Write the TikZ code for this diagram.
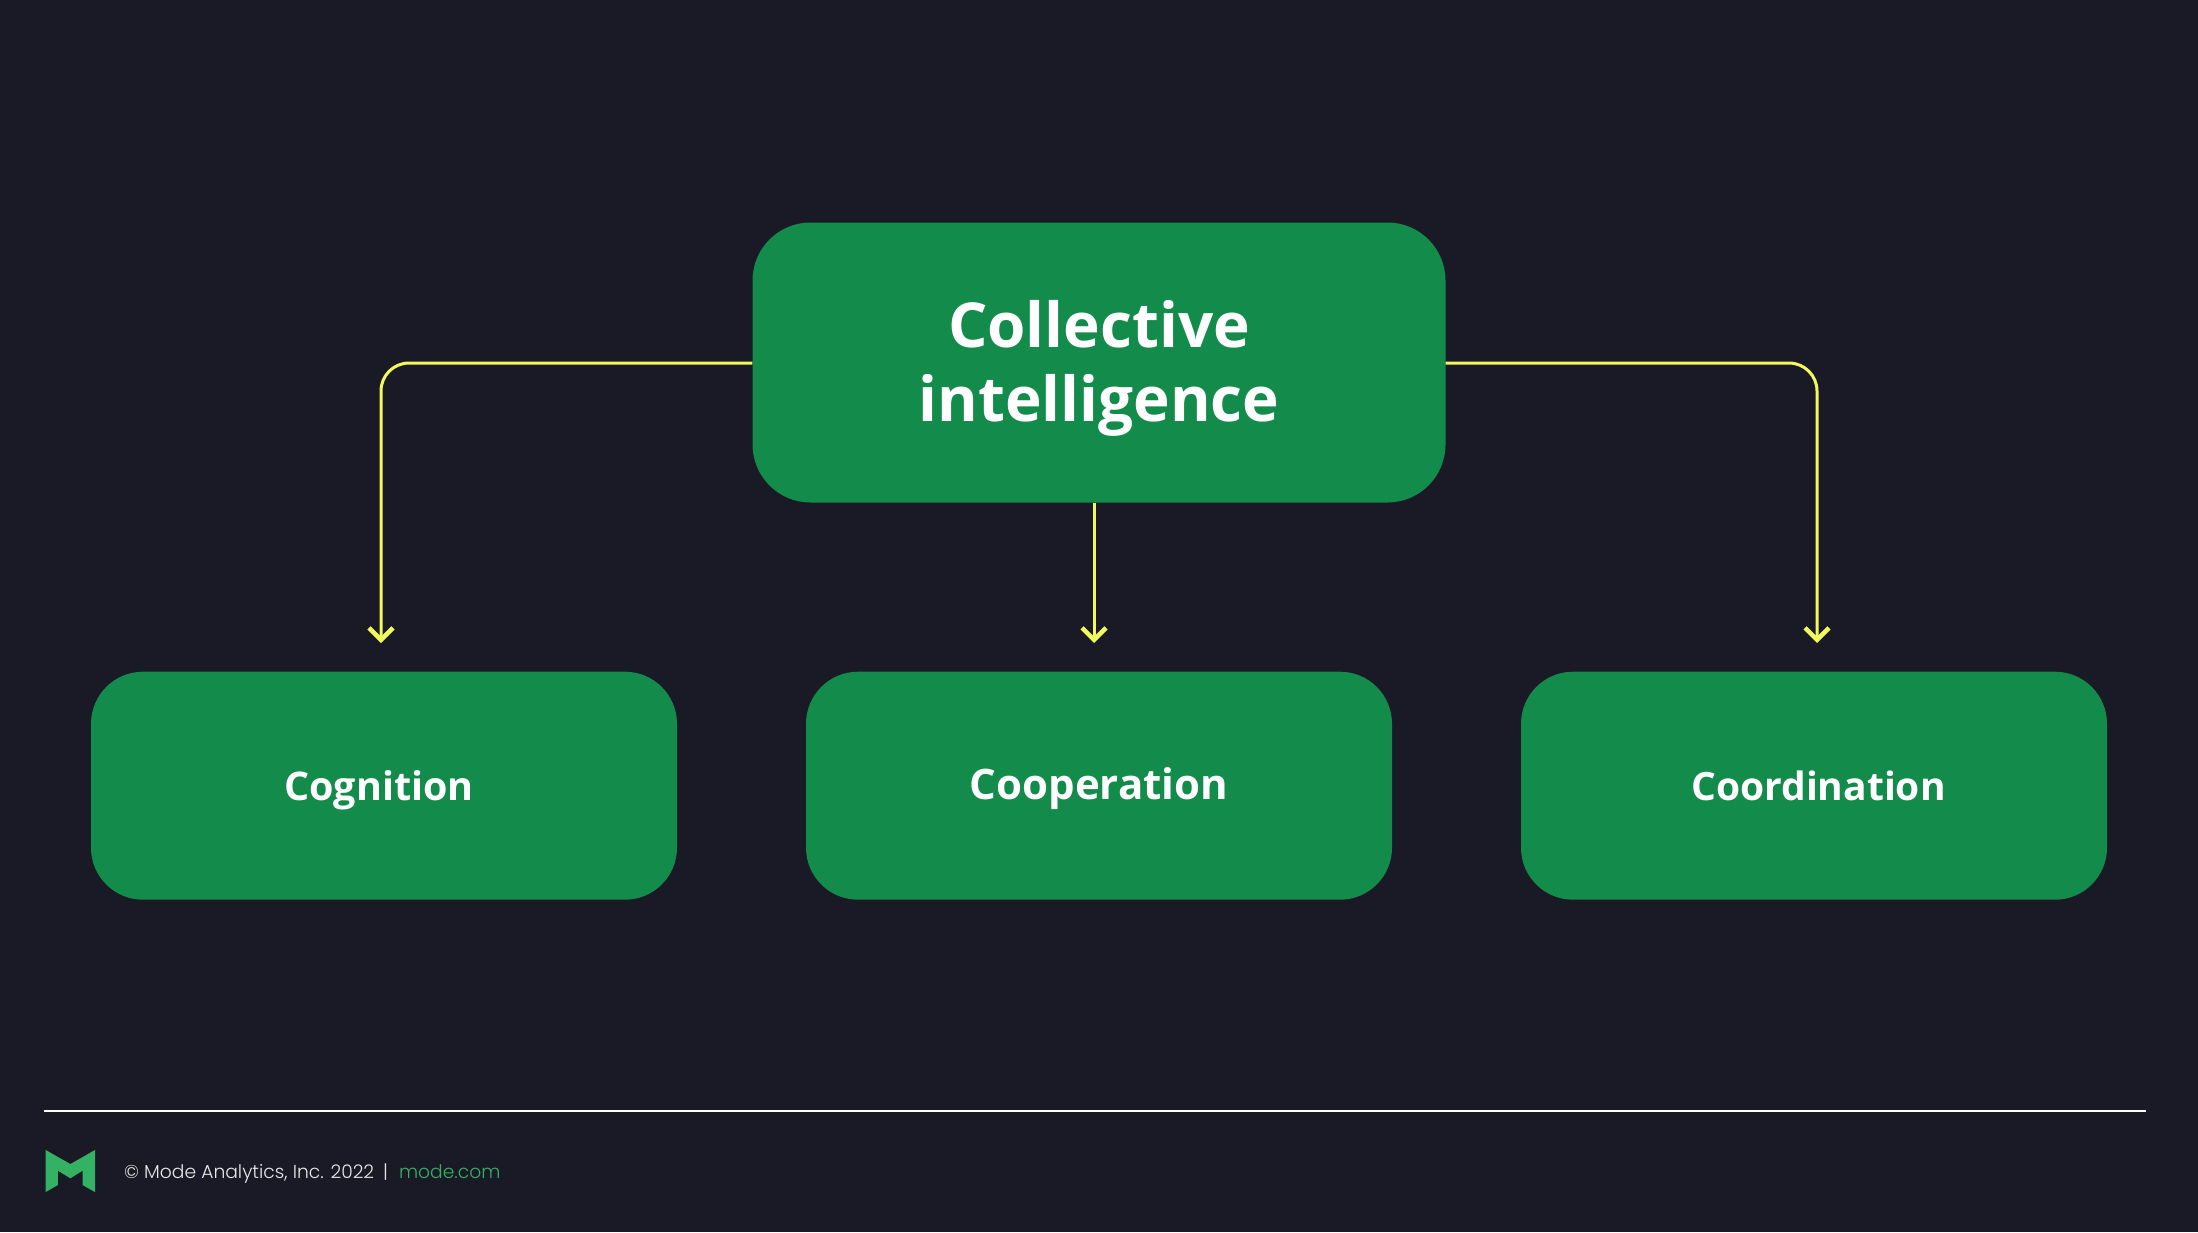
\documentclass[tikz,border=0pt]{standalone}
\usepackage{fontspec}
\setmainfont{Open Sans}
\newfontfamily\footfont[UprightFont=* Light]{Poppins}
\usetikzlibrary{arrows.meta}
\definecolor{bgc}{HTML}{191A26}
\definecolor{boxc}{HTML}{138B4A}
\definecolor{linec}{HTML}{F0FA5A}
\definecolor{logoc}{HTML}{34B263}
\definecolor{ftext}{HTML}{E8E8EA}
\tikzset{
  greenbox/.style={fill=boxc,draw=none,rounded corners=#1,inner sep=0pt},
  boxlabel/.style={text=white,font=\fontsize{#1}{#1}\selectfont\bfseries,inner sep=0pt,anchor=base},
  toplabel/.style={text=white,font=\fontsize{62}{74}\selectfont\bfseries,inner sep=0pt,align=center},
  conn/.style={draw=linec,line width=3pt,-{Straight Barb[length=12pt,width=24pt,line width=4.5pt]}},
  foot/.style={font=\footfont\fontsize{18.7}{18.7}\selectfont,inner sep=0pt,anchor=base west},
}
\begin{document}
\begin{tikzpicture}[x=1pt,y=-1pt]
\useasboundingbox (0,0) rectangle (2198,1232);
\fill[bgc] (0,0) rectangle (2198,1232);
\node[greenbox=58pt,minimum width=693pt,minimum height=280pt] (top) at (1099,362.5) {};
\node[greenbox=52pt,minimum width=586pt,minimum height=228pt] (a) at (384,785.7) {};
\node[greenbox=52pt,minimum width=586pt,minimum height=228pt] (b) at (1099,785.7) {};
\node[greenbox=52pt,minimum width=586pt,minimum height=228pt] (c) at (1814,785.7) {};
\node[toplabel] (toptext) at (1099,368.5) {Collective\\intelligence};
\node[boxlabel=39.5] (atext) at (379,800) {Cognition};
\node[boxlabel=42] (btext) at (1099,799) {Cooperation};
\node[boxlabel=39] (ctext) at (1818.5,800) {Coordination};
\coordinate (ae) at (381,643);
\coordinate (be) at (1094,643);
\coordinate (ce) at (1817,643);
\draw[conn,rounded corners=28pt] (top.west |- 0,363) -| (ae);
\draw[conn,rounded corners=28pt] (top.east |- 0,363) -| (ce);
\draw[conn] (be |- top.south) -- (be);
\coordinate (ruleL) at (43.5,1111);
\coordinate (ruleR) at (2146,1111);
\draw[white,line width=2.5pt] (ruleL) -- (ruleR);
\fill[logoc] (45.7,1150) -- (70.4,1164) -- (95,1150) -- (95,1192) -- (82.5,1185) -- (82.5,1170.7) -- (70.4,1178.3) -- (57.9,1170.7) -- (57.9,1185) -- (45.7,1192) -- cycle;
\node[foot,text=ftext] (copy) at (124,1178) {© Mode Analytics, Inc. 2022\hspace{9pt}|\hspace{11pt}\textcolor{logoc}{mode.com}};
\end{tikzpicture}
\end{document}
